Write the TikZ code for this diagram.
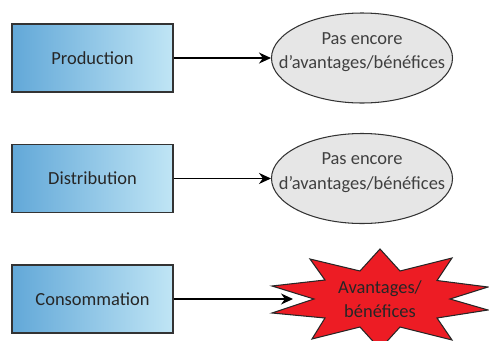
\documentclass[tikz,border=0pt]{standalone}
\usepackage{fontspec}
\setmainfont{Carlito}
\usepackage{xcolor}
\usepackage{tikz}
\usetikzlibrary{shapes,arrows.meta,positioning,backgrounds}

\definecolor{stageL}{RGB}{98,168,216}
\definecolor{stageR}{RGB}{192,229,245}
\definecolor{noGain}{RGB}{230,230,230}
\definecolor{burstRed}{RGB}{237,28,36}

\begin{document}
\begin{tikzpicture}[node distance=2.41cm, auto]
        \tikzstyle{stage} = [rectangle, draw=black!80, line width=0.6pt, left color=stageL, right color=stageR,
            text=black!85, minimum width=3.22cm, minimum height=1.36cm, inner sep=0pt, font=\fontsize{10.5}{13}\selectfont]
        \tikzstyle{nogain} = [ellipse, draw=black!80, line width=0.6pt, fill=noGain, text=black!75,
            minimum width=3.62cm, minimum height=1.8cm, inner xsep=-1cm, inner ysep=-0.5cm, align=center,
            text depth=0.3cm, font=\fontsize{10.5}{14}\selectfont]
        \tikzstyle{gaintext} = [align=center, inner sep=0pt, text=black!85, font=\fontsize{10.5}{14}\selectfont]
        \tikzstyle{burst} = [draw=black!85, line width=0.6pt, fill=burstRed, line join=miter]
        \tikzstyle{line} = [draw, line width=0.6pt, -{Stealth[length=2.4mm, width=2.2mm]}]

        \useasboundingbox (0,0) rectangle (9.78,6.8);

        \node [stage] (prod) at (1.85,5.64) {Production};
        \node [stage, below of=prod] (dist) {Distribution};
        \node [stage, below of=dist] (cons) {Consommation};
        \node [nogain, right of=prod, node distance=5.39cm] (prodout) {Pas encore\\d’avantages/bénéfices};
        \node [nogain, right of=dist, node distance=5.39cm] (distout) {Pas encore\\d’avantages/bénéfices};
        \node [gaintext, right of=cons, node distance=5.75cm] (consout) {Avantages/\\bénéfices};

        % starburst behind the text
        \begin{scope}[on background layer, shift={(consout)}]
          \path [burst] (1.40,0) \foreach \px/\py in {2.16/0.24, 1.14/0.37, 1.44/0.82, 0.40/0.56, 0/1.0,
              -0.40/0.56, -1.40/0.80, -1.10/0.38, -2.16/0.26, -1.32/0, -2.16/-0.28, -1.10/-0.38,
              -1.36/-0.80, -0.40/-0.56, 0/-1.0, 0.40/-0.56, 1.44/-0.82, 1.14/-0.38, 2.16/-0.22}
            {-- (\px,\py)} -- cycle;
        \end{scope}
        \path (consout) ++(-1.74,0) coordinate (burstin);

        \path [line] (prod) -- (prodout);
        \path [line] (dist) -- (distout);
        \path [line] (cons) -- (burstin);
\end{tikzpicture}
\end{document}
